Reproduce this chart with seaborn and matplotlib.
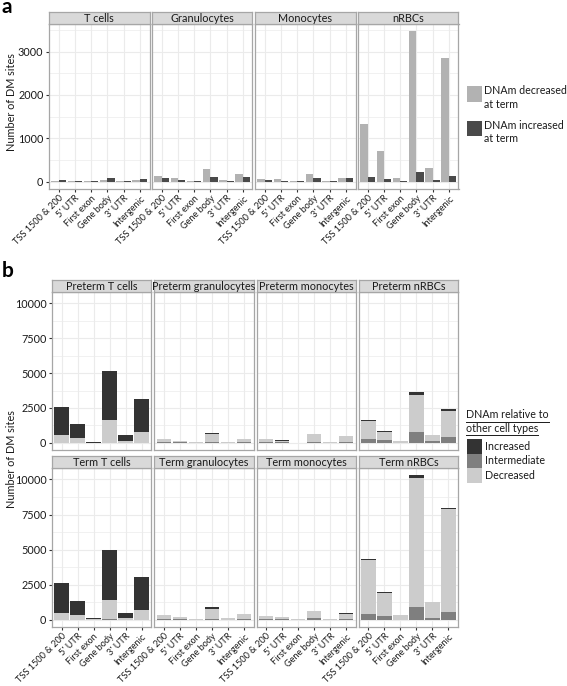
import numpy as np
import pandas as pd
import seaborn as sns
import matplotlib
matplotlib.use("Agg")
import matplotlib.pyplot as plt
from matplotlib.patches import Rectangle
from matplotlib.lines import Line2D

# ---------------- data ----------------
regions = ["TSS 1500 & 200", "5' UTR", "First exon", "Gene body", "3' UTR", "Intergenic"]

a_cells = ["T cells", "Granulocytes", "Monocytes", "nRBCs"]
a_decreased_T = [8, 5, 4, 25, 5, 25]
a_decreased_G = [120, 85, 6, 285, 30, 175]
a_decreased_M = [60, 60, 6, 175, 10, 90]
a_decreased_N = [1333, 700, 85, 3464, 322, 2843]
a_increased_T = [38, 20, 4, 70, 5, 65]
a_increased_G = [70, 30, 5, 115, 10, 107]
a_increased_M = [45, 15, 4, 90, 10, 90]
a_increased_N = [100, 55, 5, 222, 30, 123]
a_labels = ["DNAm decreased\nat term", "DNAm increased\nat term"]

b_panels = ["Preterm T cells", "Preterm granulocytes", "Preterm monocytes", "Preterm nRBCs",
            "Term T cells", "Term granulocytes", "Term monocytes", "Term nRBCs"]
b_levels = ["Increased", "Intermediate", "Decreased"]
# Intermediate / Decreased / Increased per panel
b_inter = [
    [10, 10, 0, 20, 5, 15],
    [60, 30, 5, 90, 10, 60],
    [40, 30, 3, 90, 10, 50],
    [290, 190, 10, 790, 95, 450],
    [10, 10, 0, 20, 5, 15],
    [60, 20, 5, 80, 10, 50],
    [30, 20, 3, 100, 10, 60],
    [400, 260, 0, 930, 120, 570],
]
b_decr = [
    [540, 350, 20, 1630, 135, 775],
    [180, 110, 20, 570, 45, 220],
    [220, 130, 7, 510, 40, 440],
    [1260, 570, 90, 2650, 430, 1840],
    [490, 347, 30, 1410, 135, 655],
    [260, 170, 45, 700, 90, 370],
    [220, 170, 37, 500, 70, 380],
    [3860, 1670, 330, 9150, 1170, 7330],
]
b_incr = [
    [2050, 980, 60, 3530, 390, 2340],
    [10, 10, 5, 30, 5, 10],
    [10, 10, 0, 20, 0, 10],
    [70, 100, 0, 190, 0, 100],
    [2100, 1003, 110, 3520, 360, 2400],
    [10, 0, 0, 150, 0, 10],
    [10, 0, 0, 20, 0, 10],
    [50, 50, 0, 220, 0, 70],
]

# ---------------- styling ----------------
W, H = 567, 686
FONT = "Lato"
plt.rcParams["font.family"] = [FONT, "DejaVu Sans"]
col_a = ["#B2B2B2", "#4A4A4A"]
col_b = {"Increased": "#333333", "Intermediate": "#7F7F7F", "Decreased": "#CCCCCC"}
grid_c = "#EBEBEB"
border_c = "#A6A6A6"
strip_fill = "#D9D9D9"
text_c = "#1A1A1A"

fig = plt.figure(figsize=(W / 100, H / 100), dpi=100)


def add_px(x0, y0, x1, y1):
    return fig.add_axes([x0 / W, 1 - y1 / H, (x1 - x0) / W, (y1 - y0) / H])


def style_panel(ax, yticks, yminor, ylim, show_y, show_x):
    ax.set_xlim(-0.6, 5.6)
    ax.set_ylim(*ylim)
    ax.set_facecolor("white")
    ax.set_xticks(range(6))
    ax.set_yticks(yticks)
    ax.set_yticks(yminor, minor=True)
    ax.grid(True, which="major", color=grid_c, lw=0.8, zorder=0)
    ax.grid(True, which="minor", axis="y", color=grid_c, lw=0.5, zorder=0)
    ax.set_axisbelow(True)
    for s in ax.spines.values():
        s.set_color(border_c)
        s.set_linewidth(0.9)
    ax.tick_params(which="minor", length=0)
    ax.tick_params(axis="both", which="major", length=2.5, width=0.8, color="#333333",
                   labelsize=7.8, labelcolor=text_c, pad=1.5)
    ax.tick_params(axis="x", pad=1.0)
    ax.set_xlabel("")
    ax.set_ylabel("")
    if show_y:
        ax.set_yticklabels([str(t) for t in yticks])
    else:
        ax.tick_params(axis="y", length=0, labelleft=False)
    if show_x:
        ax.set_xticklabels(regions, rotation=45, ha="right", rotation_mode="anchor",
                           fontsize=6.6)
    else:
        ax.tick_params(axis="x", length=0, labelbottom=False)


def add_strip(x0, x1, y0, y1, label):
    s = add_px(x0, y0, x1, y1)
    s.set_facecolor(strip_fill)
    s.set_xticks([])
    s.set_yticks([])
    for sp in s.spines.values():
        sp.set_color(border_c)
        sp.set_linewidth(0.9)
    s.text(0.5, 0.45, label, ha="center", va="center", fontsize=7.8, color=text_c,
           transform=s.transAxes)


# ---------------- panel a ----------------
a_dec = [a_decreased_T, a_decreased_G, a_decreased_M, a_decreased_N]
a_inc = [a_increased_T, a_increased_G, a_increased_M, a_increased_N]
wa, ga, la = 100.5, 2.5, 49
a_ylim = (-173, 3637)
for i, cell in enumerate(a_cells):
    x0 = la + i * (wa + ga)
    x1 = x0 + wa
    ax = add_px(x0, 24, x1, 189)
    df = pd.DataFrame({
        "region": regions * 2,
        "value": a_dec[i] + a_inc[i],
        "dir": [a_labels[0]] * 6 + [a_labels[1]] * 6,
    })
    sns.barplot(data=df, x="region", y="value", hue="dir", order=regions,
                hue_order=a_labels, palette=col_a, width=0.9, saturation=1,
                linewidth=0, errorbar=None, legend=False, ax=ax)
    style_panel(ax, [0, 1000, 2000, 3000], [500, 1500, 2500, 3500], a_ylim,
                show_y=(i == 0), show_x=True)
    add_strip(x0, x1, 12, 24, cell)

fig.text(12 / W, 1 - 102 / H, "Number of DM sites", rotation=90, ha="center", va="center",
         fontsize=7.8, color=text_c)
fig.text(2 / W, 1 - 13 / H, "a", fontsize=15, fontweight="bold", ha="left", va="baseline")

# legend a
for k, (lab, c) in enumerate(zip(a_labels, col_a)):
    ytop = 86 + k * 34.7
    fig.add_artist(Rectangle((467 / W, 1 - (ytop + 15.5) / H), 15 / W, 15.5 / H,
                             transform=fig.transFigure, facecolor=c, edgecolor="none"))
    fig.text(484 / W, 1 - (ytop - 0.5) / H, lab, fontsize=7.7, ha="left", va="top",
             color=text_c, linespacing=1.25)

# ---------------- panel b ----------------
wb, gb, lb = 99.25, 3.0, 52
b_ylim = (-515, 10815)
rows = [(280, 292, 450), (456, 468, 627)]
for p, name in enumerate(b_panels):
    r, i = divmod(p, 4)
    x0 = lb + i * (wb + gb)
    x1 = x0 + wb
    sy0, py0, py1 = rows[r]
    ax = add_px(x0, py0, x1, py1)
    inter = np.array(b_inter[p])
    decr = np.array(b_decr[p])
    incr = np.array(b_incr[p])
    layers = [("Increased", inter + decr + incr), ("Decreased", inter + decr),
              ("Intermediate", inter)]
    for lev, vals in layers:
        df = pd.DataFrame({"region": regions, "value": vals})
        sns.barplot(data=df, x="region", y="value", order=regions, color=col_b[lev],
                    width=0.9, saturation=1, linewidth=0, errorbar=None, ax=ax)
    style_panel(ax, [0, 2500, 5000, 7500, 10000], [1250, 3750, 6250, 8750], b_ylim,
                show_y=(i == 0), show_x=(r == 1))
    add_strip(x0, x1, sy0, py0, name)

fig.text(12 / W, 1 - 459 / H, "Number of DM sites", rotation=90, ha="center", va="center",
         fontsize=7.8, color=text_c)
fig.text(2 / W, 1 - 277 / H, "b", fontsize=15, fontweight="bold", ha="left", va="baseline")

# legend b
t1 = fig.text(466 / W, 1 - 415 / H, "DNAm relative to", fontsize=7.7, ha="left",
              va="center", color=text_c)
t2 = fig.text(466 / W, 1 - 428 / H, "other cell types", fontsize=7.7, ha="left",
              va="center", color=text_c)
for k, lev in enumerate(b_levels):
    ytop = 439 + k * 14.7
    fig.add_artist(Rectangle((467 / W, 1 - (ytop + 14.7) / H), 15 / W, 14.7 / H,
                             transform=fig.transFigure, facecolor=col_b[lev],
                             edgecolor="none"))
    fig.text(485 / W, 1 - (ytop + 7.3) / H, lev, fontsize=7.7, ha="left", va="center",
             color=text_c)

fig.canvas.draw()
rend = fig.canvas.get_renderer()
for t, yu in [(t1, 421.5), (t2, 434.5)]:
    bb = t.get_window_extent(rend)
    fig.add_artist(Line2D([bb.x0 / W, bb.x1 / W], [1 - yu / H, 1 - yu / H],
                          transform=fig.transFigure, color=text_c, lw=0.7))

fig.savefig("out.png", dpi=100, facecolor="white")
